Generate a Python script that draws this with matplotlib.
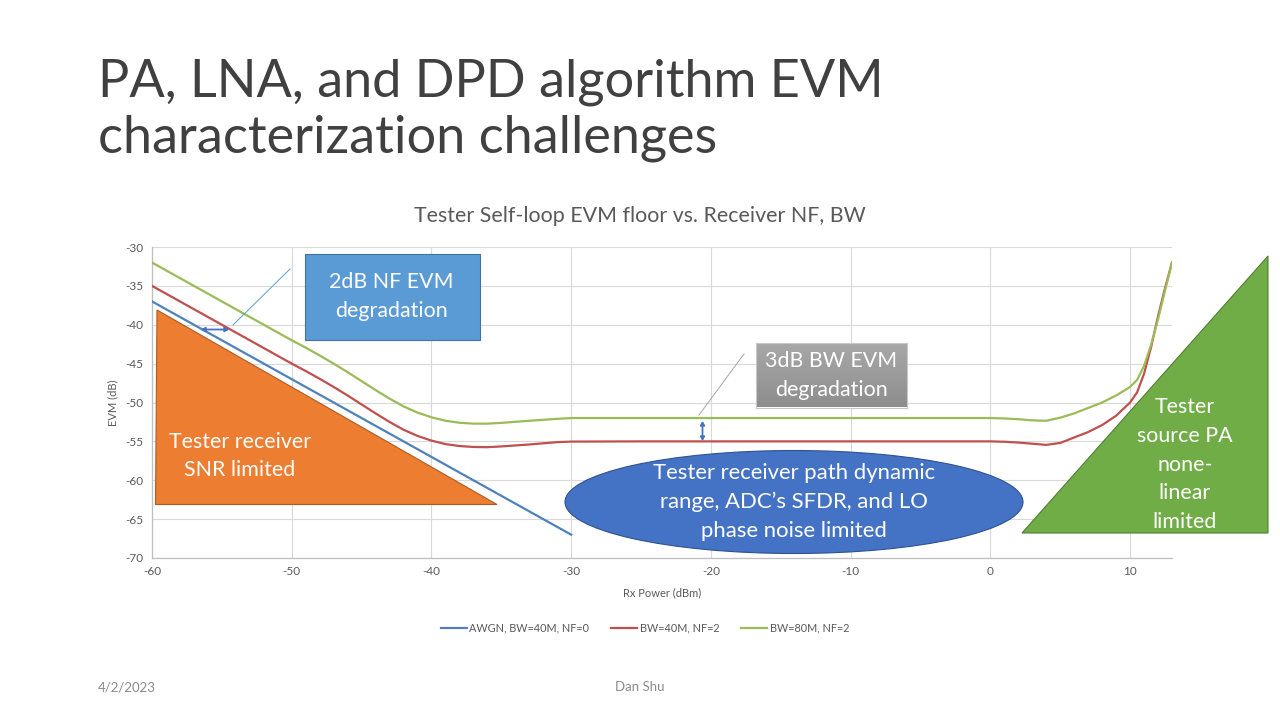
import numpy as np
import matplotlib
matplotlib.use("Agg")
import matplotlib.pyplot as plt
from matplotlib.patches import Polygon, Rectangle, Ellipse
from matplotlib.lines import Line2D

plt.rcParams['font.family'] = ['Lato', 'DejaVu Sans']
plt.rcParams['axes.unicode_minus'] = False

W, H = 1280, 720

# data
x_awgn = [-60, -30]
evm_awgn = [-37, -67]

x_nf = [-60, -55, -51, -50, -49, -48, -47, -46, -45, -44, -43, -42, -41, -40, -39, -38,
        -37, -36, -35, -33, -31, -30, -25, -20, -10, 0, 1, 2, 3, 4, 5, 6, 7, 8, 9, 10,
        10.5, 11, 11.5, 12, 12.5, 13]
evm_bw40 = [-35, -40, -44, -45, -45.95, -46.95, -48.0, -49.1, -50.25, -51.4, -52.5, -53.5,
            -54.3, -54.9, -55.35, -55.6, -55.72, -55.75, -55.65, -55.4, -55.1, -55.03, -55.0,
            -55, -55, -55, -55.05, -55.15, -55.3, -55.45, -55.2, -54.5, -53.8, -52.9, -51.7,
            -50.0, -48.7, -46.3, -42.9, -38.9, -35.3, -32]
evm_bw80 = [-32, -37, -41, -42, -42.95, -43.95, -45.0, -46.1, -47.25, -48.4, -49.5, -50.5,
            -51.3, -51.9, -52.35, -52.6, -52.72, -52.72, -52.62, -52.35, -52.1, -52.0, -52.0,
            -52, -52, -52, -52.05, -52.15, -52.3, -52.35, -51.95, -51.4, -50.7, -50.0, -49.1,
            -48.0, -47.1, -45.3, -42.6, -39.3, -35.6, -32]

labels = ["AWGN, BW=40M, NF=0", "BW=40M, NF=2", "BW=80M, NF=2"]
colors = ["#4F81BD", "#C0504D", "#9BBB59"]
xticks = [-60, -50, -40, -30, -20, -10, 0, 10]
yticks = [-30, -35, -40, -45, -50, -55, -60, -65, -70]


def px(x, y):
    # slide pixel -> figure fraction
    return (x / W, 1 - y / H)


def ftext(x, y, s, **kw):
    fig.text(x / W, 1 - y / H, s, **kw)


fig = plt.figure(figsize=(12.8, 7.2), dpi=100)
fig.patch.set_facecolor("white")

ax = fig.add_axes([152 / W, 1 - 558 / H, (1172 - 152) / W, (558 - 247) / H])
ax.plot(x_awgn, evm_awgn, color=colors[0], lw=1.6, label=labels[0], zorder=3)
ax.plot(x_nf, evm_bw40, color=colors[1], lw=1.6, label=labels[1], zorder=3)
ax.plot(x_nf, evm_bw80, color=colors[2], lw=1.6, label=labels[2], zorder=3)

ax.set_xlim(-60, 13)
ax.set_ylim(-70, -30)
ax.set_xticks(xticks)
ax.set_yticks(yticks)
ax.grid(True, color="#D9D9D9", lw=0.8)
ax.set_axisbelow(True)
for s in ["top", "right"]:
    ax.spines[s].set_visible(False)
for s in ["left", "bottom"]:
    ax.spines[s].set_color("#BFBFBF")
    ax.spines[s].set_linewidth(0.9)
ax.tick_params(length=0, labelsize=8.5, colors="#595959", pad=6)
ax.set_xlabel("Rx Power (dBm)", fontsize=8, color="#595959", labelpad=7)
ax.set_ylabel("EVM (dB)", fontsize=8, color="#595959", labelpad=5)

fig.legend(loc="center", bbox_to_anchor=(645 / W, 1 - 628 / H), ncol=3, frameon=False,
           fontsize=7.8, handlelength=2.4, handletextpad=0.25, columnspacing=2.0,
           labelcolor="#595959")

# slide title and chart title
ftext(98, 96, "PA, LNA, and DPD algorithm EVM", fontsize=37.6, color="#404040",
      va="baseline")
ftext(98, 153, "characterization challenges", fontsize=37.6, color="#404040",
      va="baseline")
ftext(640, 216, "Tester Self-loop EVM floor vs. Receiver NF, BW", fontsize=15.4,
      color="#595959", ha="center", va="center")

# footer
ftext(98, 687, "4/2/2023", fontsize=9.5, color="#8B8B8B", va="center")
ftext(640, 687, "Dan Shu", fontsize=9.5, color="#8B8B8B", ha="center", va="center")

fs = 15.4
arrow = "<|-|>,head_length=0.22,head_width=0.13"

# orange triangle
fig.add_artist(Polygon([px(157, 310), px(155.5, 504.5), px(497, 504.5)], closed=True,
                       transform=fig.transFigure, facecolor="#ED7D31",
                       edgecolor="#AE5A21", lw=0.8, zorder=5))
ftext(240, 442, "Tester receiver", fontsize=fs, color="white", ha="center", va="center", zorder=6)
ftext(240, 470, "SNR limited", fontsize=fs, color="white", ha="center", va="center", zorder=6)

# blue rectangle
fig.add_artist(Rectangle(px(304.5, 339.5), 175 / W, 86 / H, transform=fig.transFigure,
                         facecolor="#5B9BD5", edgecolor="#41719C", lw=0.8, zorder=5))
ftext(391.5, 282, "2dB NF EVM", fontsize=fs, color="white", ha="center", va="center", zorder=6)
ftext(391.5, 311, "degradation", fontsize=fs, color="white", ha="center", va="center", zorder=6)
fig.add_artist(Line2D([290 / W, 233 / W], [1 - 269 / H, 1 - 325 / H],
                      transform=fig.transFigure, color="#5B9BD5", lw=0.7, zorder=5))
fig.add_artist(plt.Annotation("", xy=px(229, 329.5), xytext=px(201, 329.5),
                              xycoords="figure fraction", textcoords="figure fraction",
                              arrowprops=dict(arrowstyle=arrow, color="#4472C4", lw=1.3,
                                              shrinkA=0, shrinkB=0), zorder=6))

# gray gradient box
gax = fig.add_axes([756 / W, 1 - 407.5 / H, 151 / W, 65 / H], zorder=5)
grad = np.linspace(0, 1, 64).reshape(-1, 1)
gax.imshow(grad, aspect="auto", cmap=matplotlib.colors.LinearSegmentedColormap.from_list(
    "g", ["#A8A8A8", "#8E8E8E"]), extent=(0, 1, 0, 1), origin="upper")
gax.set_xticks([])
gax.set_yticks([])
for s in gax.spines.values():
    s.set_color("#C8C8C8")
    s.set_linewidth(0.8)
ftext(831, 361, "3dB BW EVM", fontsize=fs, color="white", ha="center", va="center", zorder=7)
ftext(831, 390, "degradation", fontsize=fs, color="white", ha="center", va="center", zorder=7)
fig.add_artist(Line2D([744 / W, 699 / W], [1 - 354 / H, 1 - 415 / H],
                      transform=fig.transFigure, color="#A6A6A6", lw=0.7, zorder=5))
fig.add_artist(plt.Annotation("", xy=px(702.5, 441), xytext=px(702.5, 421),
                              xycoords="figure fraction", textcoords="figure fraction",
                              arrowprops=dict(arrowstyle=arrow, color="#4472C4", lw=1.3,
                                              shrinkA=0, shrinkB=0), zorder=6))

# blue ellipse
fig.add_artist(Ellipse(px(794, 502), 458 / W, 103 / H, transform=fig.transFigure,
                       facecolor="#4472C4", edgecolor="#2F528F", lw=0.8, zorder=5))
for i, s in enumerate(["Tester receiver path dynamic", "range, ADC\u2019s SFDR, and LO",
                       "phase noise limited"]):
    ftext(794, 473 + 29 * i, s, fontsize=15.9, color="white",
          ha="center", va="center", zorder=6)

# green triangle
fig.add_artist(Polygon([px(1268, 256), px(1022, 533), px(1268, 533)], closed=True,
                       transform=fig.transFigure, facecolor="#70AD47",
                       edgecolor="#507E32", lw=0.8, zorder=5))
for i, s in enumerate(["Tester", "source PA", "none-", "linear", "limited"]):
    ftext(1185, 407 + 28.8 * i, s, fontsize=fs, color="white", ha="center",
          va="center", zorder=6)

fig.savefig("out.png", dpi=100)
